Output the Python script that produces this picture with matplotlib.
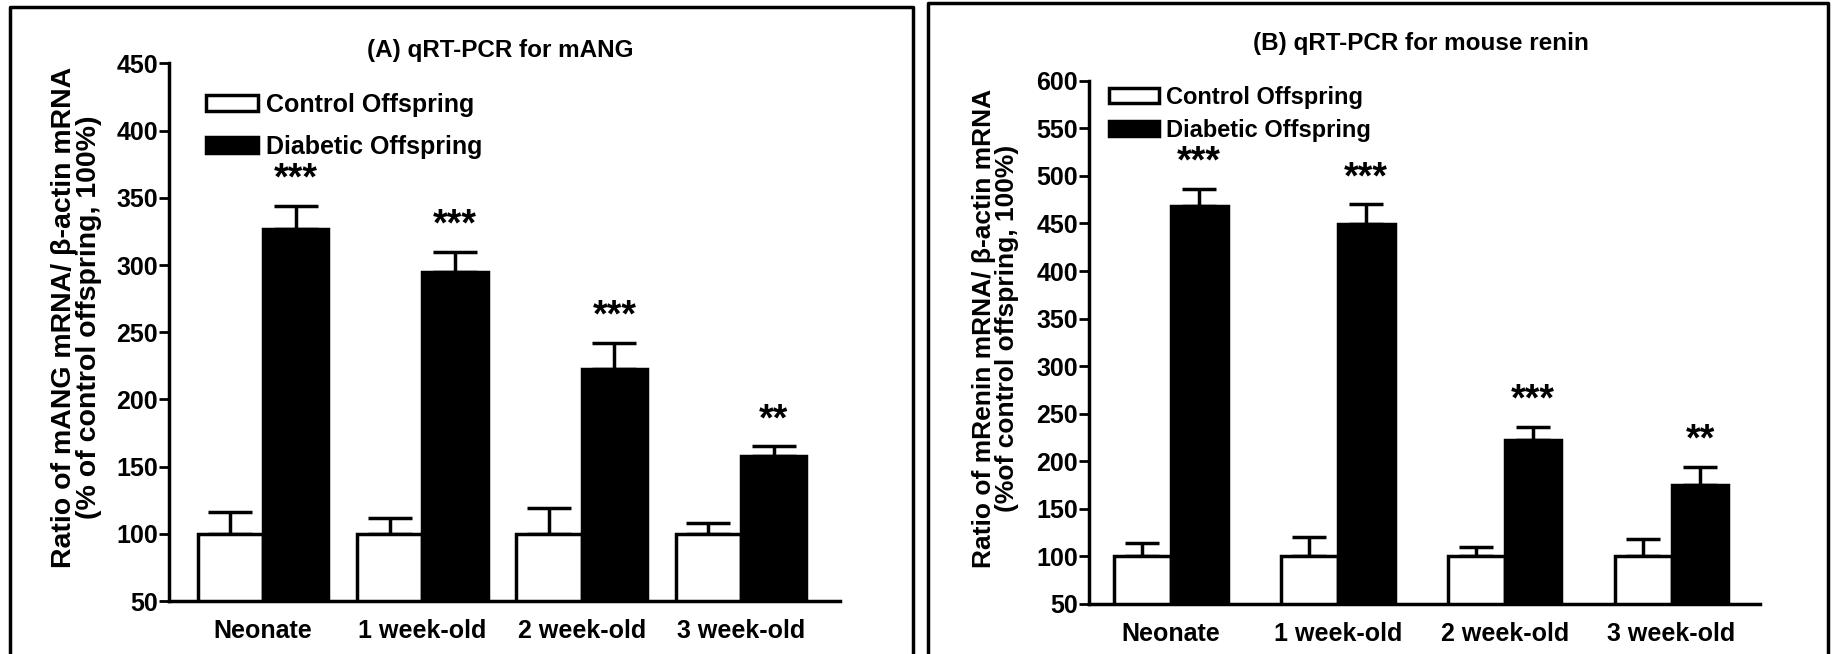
import numpy as np
import matplotlib
matplotlib.use("Agg")
import matplotlib.pyplot as plt
from matplotlib.lines import Line2D

# Data
groups = ["Neonate", "1 week-old", "2 week-old", "3 week-old"]

ang_control = [100, 100, 100, 100]
ang_control_err = [16, 12, 19, 8]
ang_diabetic = [327, 295, 223, 158]
ang_diabetic_err = [17, 15, 19, 7]
ang_stars = ["***", "***", "***", "**"]

renin_control = [100, 100, 100, 100]
renin_control_err = [14, 20, 10, 18]
renin_diabetic = [468, 449, 222, 175]
renin_diabetic_err = [18, 21, 14, 19]
renin_stars = ["***", "***", "***", "**"]

plt.rcParams["font.family"] = ["Liberation Sans", "DejaVu Sans"]
plt.rcParams["font.weight"] = "bold"


def panel(ax, control, control_err, diabetic, diabetic_err, stars,
          width, xlim, ylim, yticks, capsize, legend_pos, legend_fs, legend_sp):
    x = np.arange(len(groups))
    ax.bar(x - width / 2, control, width, color="white",
           edgecolor="black", linewidth=2.5, label="Control Offspring", zorder=2)
    ax.bar(x + width / 2, diabetic, width, color="black",
           edgecolor="black", linewidth=2.5, label="Diabetic Offspring", zorder=2)
    # only the upper half of each error bar is drawn
    ax.errorbar(x - width / 2, control, yerr=[np.zeros(4), control_err], fmt="none",
                ecolor="black", elinewidth=2.5, capsize=capsize, capthick=2.5, zorder=1)
    ax.errorbar(x + width / 2, diabetic, yerr=[np.zeros(4), diabetic_err], fmt="none",
                ecolor="black", elinewidth=2.5, capsize=capsize, capthick=2.5, zorder=1)
    for xi, v, e, s in zip(x, diabetic, diabetic_err, stars):
        ax.annotate(s, (xi + width / 2, v + e), xytext=(0, 19), textcoords="offset points",
                    ha="center", va="center", fontsize=27, fontweight="bold")
    ax.set_xlim(*xlim)
    ax.set_ylim(*ylim)
    ax.set_yticks(yticks)
    ax.set_xticks(x)
    ax.set_xticklabels(groups, fontsize=18, fontweight="bold")
    ax.tick_params(axis="x", length=0, pad=13)
    ax.tick_params(axis="y", length=7, width=2, pad=1, labelsize=18)
    for lab in ax.get_yticklabels():
        lab.set_fontweight("bold")
    for sp in ["top", "right"]:
        ax.spines[sp].set_visible(False)
    for sp in ["left", "bottom"]:
        ax.spines[sp].set_linewidth(2.5)
    ax.legend(loc="upper left", bbox_to_anchor=legend_pos, frameon=False,
              prop={"size": legend_fs, "weight": "bold"}, handlelength=2.1,
              handleheight=0.6, handletextpad=0.3, labelspacing=legend_sp,
              borderaxespad=0, borderpad=0)


fig = plt.figure(figsize=(18.34, 6.54), dpi=100)

ax1 = fig.add_axes([0.0921, 0.081, 0.3659, 0.822])
panel(ax1, ang_control, ang_control_err, ang_diabetic, ang_diabetic_err, ang_stars,
      0.41, (-0.59, 3.62), (50, 450), np.arange(50, 451, 50), 15.5,
      (0.055, 0.945), 18, 0.7)

ax2 = fig.add_axes([0.5938, 0.0765, 0.3659, 0.800])
panel(ax2, renin_control, renin_control_err, renin_diabetic, renin_diabetic_err, renin_stars,
      0.34, (-0.49, 3.53), (50, 600), np.arange(50, 601, 50), 12.5,
      (0.03, 0.99), 17, 0.42)

fig.text(0.273, 0.9235, "(A) qRT-PCR for mANG", ha="center", va="center",
         fontsize=17.5, fontweight="bold")
fig.text(0.7748, 0.933, "(B) qRT-PCR for mouse renin", ha="center", va="center",
         fontsize=17.5, fontweight="bold")

fig.text(0.0415, 0.515, "Ratio of mANG mRNA/ \u03b2-actin mRNA\n(% of control offspring, 100%)",
         rotation=90, ha="center", va="center", multialignment="center",
         fontsize=20.5, fontweight="bold", linespacing=0.95)
fig.text(0.543, 0.498, "Ratio of mRenin mRNA/ \u03b2-actin mRNA\n(%of control offspring, 100%)",
         rotation=90, ha="center", va="center", multialignment="center",
         fontsize=19, fontweight="bold", linespacing=0.95)

# panel frames (open at the bottom)
H = 654.0
W = 1834.0
for x0, x1, top in [(10, 913, 7), (928, 1828, 3)]:
    yt = 1 - top / H
    fig.add_artist(Line2D([x0 / W, x0 / W, x1 / W, x1 / W], [0, yt, yt, 0],
                          color="black", linewidth=2.5, transform=fig.transFigure))

fig.savefig("out.png", dpi=100)
